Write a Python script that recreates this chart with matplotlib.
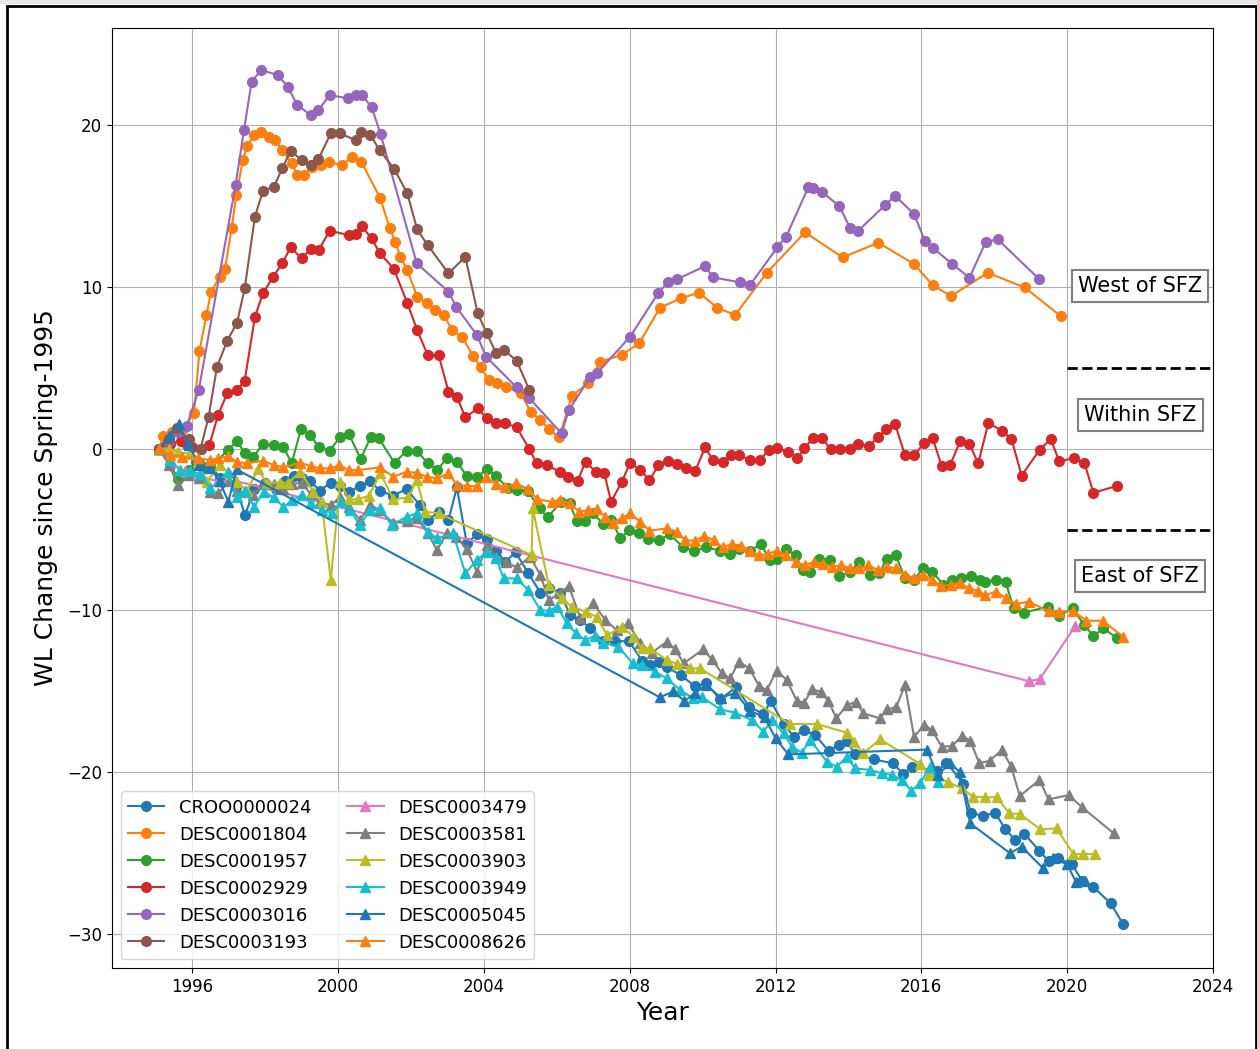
import matplotlib
matplotlib.use("Agg")
import matplotlib.pyplot as plt
from matplotlib.patches import Rectangle

# water level change since spring 1995, per well (year, WL change)
croo_x = [1995.1, 1995.35, 1995.6, 1995.85, 1996.1, 1996.35, 1996.5, 1996.75, 1997.2, 1997.45, 1997.7, 1998.0,
          1998.3, 1998.55, 1998.78, 1999.0, 1999.24, 1999.5, 1999.8, 2000.05, 2000.3, 2000.6, 2000.88, 2001.15,
          2001.5, 2001.88, 2002.25, 2002.48, 2002.76, 2003.03, 2003.26, 2003.53, 2003.81, 2004.08, 2004.34,
          2004.59, 2004.87, 2005.22, 2005.55, 2005.8, 2006.09, 2006.37, 2006.65, 2006.92, 2007.26, 2007.6,
          2007.99, 2008.33, 2008.56, 2008.8, 2009.02, 2009.4, 2009.8, 2010.1, 2010.48, 2010.92, 2011.28,
          2011.67, 2011.87, 2012.22, 2012.5, 2012.77, 2013.09, 2013.46, 2013.73, 2013.96, 2014.18, 2014.69,
          2015.22, 2015.5, 2015.73, 2016.44, 2016.69, 2017.15, 2017.35, 2017.7, 2018.02, 2018.3, 2018.57,
          2018.82, 2019.24, 2019.49, 2019.74, 2020.13, 2020.41, 2020.72, 2021.19, 2021.54]
croo_y = [0, 0.8, 1.2, 0.2, -0.8, -1.2, -1.0, -1.8, -2.4, -4.1, -2.5, -2.1,
          -2.5, -2.0, -1.7, -1.8, -2.0, -2.6, -2.1, -2.3, -2.7, -2.3, -2.0, -2.6,
          -2.9, -2.5, -3.5, -4.4, -3.9, -4.4, -2.4, -5.85, -5.3, -5.6, -6.3,
          -7.0, -6.4, -7.7, -8.9, -8.6, -8.9, -10.3, -10.6, -11.1, -11.9, -11.9,
          -11.9, -13.1, -13.4, -13.2, -13.5, -14.0, -14.7, -14.5, -15.5, -14.75, -15.95,
          -16.4, -15.6, -17.0, -17.8, -17.4, -17.7, -18.7, -18.3, -18.1, -18.9, -19.2,
          -19.45, -20.1, -19.7, -19.9, -19.4, -20.7, -22.5, -22.7, -22.5, -23.5, -24.2,
          -23.8, -24.85, -25.5, -25.3, -25.7, -26.7, -27.1, -28.1, -29.4]

d1804_x = [1995.1, 1995.2, 1995.45, 1995.75, 1996.05, 1996.2, 1996.39, 1996.52, 1996.75, 1996.9, 1997.08, 1997.21,
           1997.39, 1997.51, 1997.69, 1997.89, 1998.1, 1998.28, 1998.47, 1998.74, 1998.88, 1999.06, 1999.29,
           1999.52, 1999.74, 2000.11, 2000.38, 2000.64, 2001.16, 2001.42, 2001.57, 2001.71, 2001.9, 2002.17,
           2002.44, 2002.67, 2002.9, 2003.13, 2003.41, 2003.71, 2003.91, 2004.14, 2004.37, 2004.6, 2005.01,
           2005.29, 2005.55, 2005.79, 2006.07, 2006.41, 2006.85, 2007.19, 2007.78, 2008.26, 2008.83, 2009.4,
           2009.9, 2010.4, 2010.89, 2011.76, 2012.81, 2013.84, 2014.82, 2015.8, 2016.31, 2016.81, 2017.82,
           2018.83, 2019.82]
d1804_y = [0, 0.8, 1.0, 1.2, 2.2, 6.05, 8.26, 9.7, 10.59, 11.08, 13.61, 15.67,
           17.84, 18.7, 19.38, 19.59, 19.28, 19.07, 18.45, 17.63, 16.91, 16.91, 17.42,
           17.53, 17.73, 17.53, 18.04, 17.73, 15.47, 13.61, 12.79, 11.86, 11.04, 9.39,
           8.98, 8.57, 8.26, 7.33, 6.88, 5.72, 5.06, 4.24, 4.04, 3.83, 3.42,
           2.28, 1.77, 1.19, 0.7, 3.25, 4.04, 5.37, 5.79, 6.51, 8.71, 9.29,
           9.64, 8.71, 8.26, 10.87, 13.37, 11.82, 12.73, 11.41, 10.11, 9.43, 10.87,
           9.97, 8.2]

d1957_x = [1995.1, 1995.4, 1995.62, 1995.9, 1996.2, 1996.49, 1996.97, 1997.22, 1997.45, 1997.68, 1997.94, 1998.23,
           1998.5, 1998.73, 1998.98, 1999.24, 1999.47, 1999.77, 2000.05, 2000.3, 2000.62, 2000.9, 2001.12,
           2001.55, 2001.88, 2002.17, 2002.46, 2002.72, 2003.0, 2003.26, 2003.53, 2003.81, 2004.08, 2004.34,
           2004.65, 2004.92, 2005.2, 2005.53, 2005.75, 2006.12, 2006.35, 2006.55, 2006.78, 2007.0, 2007.28,
           2007.5, 2007.74, 2007.99, 2008.26, 2008.51, 2008.81, 2009.1, 2009.47, 2009.77, 2010.1, 2010.48,
           2010.75, 2011.0, 2011.3, 2011.6, 2011.85, 2012.05, 2012.3, 2012.55, 2012.75, 2012.95, 2013.2,
           2013.5, 2013.75, 2014.05, 2014.3, 2014.6, 2014.85, 2015.05, 2015.3, 2015.55, 2015.8, 2016.05,
           2016.3, 2016.6, 2016.85, 2017.1, 2017.35, 2017.6, 2017.75, 2018.05, 2018.31, 2018.53, 2018.81,
           2019.47, 2019.78, 2020.15, 2020.47, 2020.72, 2020.99, 2021.36]
d1957_y = [0, -1.0, -1.9, -1.3, -0.9, -1.2, -0.1, 0.45, -0.27, -0.52, 0.3, 0.25,
           0.1, -0.89, 1.19, 0.84, 0.1, -0.13, 0.7, 0.9, -0.63, 0.72, 0.64,
           -0.89, -0.13, -0.16, -0.89, -1.32, -0.55, -0.81, -1.69, -1.73, -1.28, -1.69,
           -2.45, -2.56, -2.6, -3.69, -4.25, -3.28, -3.38, -4.47, -4.47, -4.0, -4.66,
           -4.4, -5.54, -5.03, -5.24, -5.61, -5.65, -5.3, -6.1, -6.33, -6.1, -6.3,
           -6.5, -6.2, -6.3, -5.9, -6.9, -6.8, -6.2, -6.6, -7.5, -7.6, -6.8,
           -6.9, -7.9, -7.6, -7.0, -7.8, -7.7, -6.8, -6.6, -8.0, -8.1, -7.4,
           -7.6, -8.4, -8.1, -8.0, -7.9, -8.1, -8.22, -8.12, -8.22, -9.87, -10.14,
           -9.77, -10.33, -9.87, -10.9, -11.58, -11.11, -11.69]

d2929_x = [1995.1, 1995.4, 1995.7, 1996.0, 1996.23, 1996.47, 1996.71, 1996.96, 1997.23, 1997.44, 1997.72, 1997.94,
           1998.22, 1998.47, 1998.7, 1999.0, 1999.25, 1999.47, 1999.77, 2000.29, 2000.48, 2000.65, 2000.92,
           2001.14, 2001.53, 2001.9, 2002.17, 2002.46, 2002.76, 2003.03, 2003.26, 2003.49, 2003.83, 2004.08,
           2004.34, 2004.59, 2004.9, 2005.25, 2005.45, 2005.72, 2006.09, 2006.32, 2006.57, 2006.79, 2007.07,
           2007.3, 2007.49, 2007.78, 2008.01, 2008.29, 2008.54, 2008.79, 2009.06, 2009.31, 2009.54, 2009.8,
           2010.07, 2010.28, 2010.55, 2010.77, 2011.01, 2011.3, 2011.58, 2011.81, 2012.04, 2012.34, 2012.6,
           2012.79, 2013.02, 2013.27, 2013.52, 2013.77, 2014.05, 2014.27, 2014.57, 2014.8, 2015.03, 2015.28,
           2015.55, 2015.81, 2016.08, 2016.31, 2016.56, 2016.79, 2017.07, 2017.32, 2017.56, 2017.84, 2018.2,
           2018.47, 2018.75, 2019.25, 2019.55, 2019.78, 2020.19, 2020.47, 2020.72, 2021.36]
d2929_y = [0, 0.3, 0.5, 0.1, 0.0, 0.22, 2.08, 3.42, 3.62, 4.2, 8.15, 9.6,
           10.62, 11.45, 12.44, 11.76, 12.32, 12.27, 13.47, 13.2, 13.26, 13.76, 13.0,
           12.11, 11.11, 9.0, 7.33, 5.78, 5.78, 3.52, 3.21, 1.93, 2.49, 1.87,
           1.6, 1.56, 1.32, -0.04, -0.91, -1.01, -1.43, -1.73, -1.98, -0.81, -1.43,
           -1.49, -3.28, -2.07, -0.89, -1.3, -1.96, -1.01, -0.77, -0.95, -1.22, -1.36,
           0.08, -0.7, -0.81, -0.4, -0.4, -0.7, -0.7, -0.09, 0.02, -0.19, -0.6,
           0.02, 0.64, 0.64, -0.04, -0.04, -0.04, 0.28, 0.16, 0.7, 1.19, 1.52,
           -0.4, -0.4, 0.36, 0.64, -1.08, -1.01, 0.49, 0.28, -0.91, 1.6, 1.11,
           0.62, -1.66, -0.06, 0.59, -0.77, -0.6, -0.87, -2.72, -2.31]

d3016_x = [1995.1, 1995.35, 1995.6, 1995.85, 1996.18, 1997.19, 1997.42, 1997.63, 1997.89, 1998.35, 1998.62, 1998.88,
           1999.25, 1999.46, 1999.77, 2000.28, 2000.48, 2000.65, 2000.92, 2001.17, 2002.16, 2003.03, 2003.24,
           2003.81, 2004.06, 2004.9, 2005.25, 2006.13, 2006.33, 2006.92, 2007.1, 2008.01, 2008.79, 2009.06,
           2009.31, 2010.07, 2010.28, 2011.03, 2011.3, 2012.05, 2012.29, 2012.9, 2013.02, 2013.27, 2013.75,
           2014.05, 2014.27, 2015.01, 2015.28, 2015.8, 2016.1, 2016.33, 2016.85, 2017.32, 2017.76, 2018.09,
           2019.24]
d3016_y = [0, 0.5, 1.0, 1.4, 3.62, 16.29, 19.69, 22.68, 23.4, 23.09, 22.37, 21.24,
           20.62, 20.92, 21.85, 21.65, 21.85, 21.85, 21.13, 19.42, 11.45, 9.7, 8.77,
           7.02, 5.68, 3.79, 3.11, 0.95, 2.38, 4.44, 4.65, 6.92, 9.64, 10.32,
           10.48, 11.29, 10.59, 10.28, 10.11, 12.44, 13.1, 16.15, 16.09, 15.88, 14.99,
           13.62, 13.47, 15.06, 15.63, 14.5, 12.83, 12.38, 11.41, 10.56, 12.75, 12.95,
           10.46]

d3193_x = [1995.1, 1995.35, 1995.58, 1995.9, 1996.23, 1996.45, 1996.68, 1996.96, 1997.23, 1997.44, 1997.72, 1997.94,
           1998.24, 1998.47, 1998.7, 1999.0, 1999.25, 1999.46, 1999.8, 2000.05, 2000.48, 2000.62, 2000.89,
           2001.14, 2001.54, 2001.9, 2002.17, 2002.46, 2003.03, 2003.49, 2003.83, 2004.08, 2004.34, 2004.56,
           2004.9, 2005.25]
d3193_y = [0, 0.6, 1.27, 0.6, 0.0, 1.97, 5.06, 6.67, 7.78, 9.91, 14.33, 15.94,
           16.19, 17.32, 18.41, 17.84, 17.53, 17.88, 19.49, 19.49, 19.07, 19.59, 19.38,
           18.45, 17.29, 15.78, 13.55, 12.58, 10.83, 11.86, 8.36, 7.13, 5.89, 6.09,
           5.43, 3.62]

d3479_x = [1995.1, 1995.4, 1995.8, 1996.3, 1996.7, 1997.2, 2018.95, 2019.25, 2020.22]
d3479_y = [0, -0.9, -1.4, -1.8, -2.0, -2.0, -14.37, -14.24, -10.97]

d3581_x = [1995.1, 1995.35, 1995.62, 1995.9, 1996.2, 1996.49, 1996.72, 1997.0, 1997.22, 1997.45, 1997.68, 1997.94,
           1998.23, 1998.5, 1998.75, 1999.0, 1999.25, 1999.5, 1999.8, 2000.05, 2000.3, 2000.6, 2000.88,
           2001.15, 2001.5, 2001.88, 2002.16, 2002.46, 2002.71, 2003.0, 2003.24, 2003.53, 2003.81, 2004.08,
           2004.34, 2004.6, 2004.9, 2005.27, 2005.55, 2005.78, 2006.08, 2006.33, 2006.65, 2007.0, 2007.33,
           2007.64, 2007.96, 2008.29, 2008.61, 2009.02, 2009.25, 2009.48, 2010.02, 2010.25, 2010.52, 2010.75,
           2011.0, 2011.28, 2011.55, 2011.76, 2012.03, 2012.31, 2012.58, 2012.79, 2013.0, 2013.24, 2013.45,
           2013.67, 2013.96, 2014.21, 2014.41, 2014.87, 2015.05, 2015.31, 2015.55, 2015.8, 2016.08, 2016.29,
           2016.56, 2016.84, 2017.11, 2017.34, 2017.59, 2017.87, 2018.21, 2018.46, 2018.7, 2019.24, 2019.49,
           2020.04, 2020.41, 2021.28]
d3581_y = [0, -1.0, -2.25, -1.6, -1.8, -2.66, -2.76, -2.0, -2.6, -2.7, -2.87, -2.2,
           -2.2, -2.5, -2.2, -2.1, -2.8, -3.3, -3.5, -3.0, -3.6, -4.4, -3.5,
           -3.8, -4.6, -4.5, -4.3, -5.2, -6.27, -5.2, -5.45, -6.2, -7.61, -5.96,
           -6.68, -7.0, -7.34, -6.68, -7.81, -9.36, -8.94, -8.49, -10.49, -9.56, -10.59,
           -11.21, -10.8, -12.03, -12.61, -11.93, -12.4, -13.27, -12.4, -13.02, -13.85, -14.2,
           -13.17, -13.58, -14.67, -14.92, -13.73, -14.3, -15.58, -15.7, -14.88, -15.02, -15.6,
           -16.67, -15.85, -15.64, -16.36, -16.67, -16.11, -15.99, -14.61, -17.81, -17.08, -17.39,
           -18.42, -18.38, -17.76, -18.05, -19.45, -19.29, -18.63, -19.62, -21.47, -20.48, -21.68,
           -21.41, -22.17, -23.78]

d3903_x = [1995.1, 1995.35, 1995.6, 1995.9, 1996.15, 1996.4, 1996.76, 1997.0, 1997.22, 1997.5, 1997.81, 1998.04,
           1998.41, 1998.64, 1998.96, 1999.32, 1999.55, 1999.8, 2000.06, 2000.29, 2000.56, 2000.85, 2001.16,
           2001.52, 2001.93, 2002.16, 2002.39, 2002.76, 2005.31, 2005.34, 2005.78, 2006.14, 2006.41, 2006.8,
           2007.09, 2007.38, 2007.8, 2008.1, 2008.33, 2008.56, 2009.02, 2009.3, 2009.66, 2009.93, 2012.4,
           2013.13, 2013.96, 2014.16, 2014.4, 2014.87, 2015.97, 2016.2, 2016.72, 2017.11, 2017.43, 2017.75,
           2018.07, 2018.41, 2018.71, 2019.26, 2019.71, 2020.17, 2020.44, 2020.76]
d3903_y = [0, 0, -0.2, -0.3, -0.8, -2.04, -1.01, -1.5, -2.04, -2.6, -1.28, -2.1,
           -2.1, -2.1, -1.43, -2.66, -3.3, -8.12, -2.04, -3.13, -3.13, -2.9, -1.53,
           -3.13, -3.01, -1.94, -3.9, -4.0, -6.58, -3.69, -8.43, -9.25, -9.77, -10.08,
           -10.39, -11.52, -11.01, -11.63, -12.34, -12.34, -13.07, -13.3, -13.58, -13.58, -17.02,
           -17.02, -17.56, -18.11, -18.83, -17.97, -19.49, -20.17, -20.59, -21.0, -21.51, -21.55,
           -21.55, -22.54, -22.58, -23.53, -23.47, -25.06, -25.06, -25.06]

d3949_x = [1995.1, 1995.4, 1995.67, 1995.95, 1996.22, 1996.49, 1996.75, 1996.97, 1997.22, 1997.45, 1997.7, 1997.96,
           1998.23, 1998.5, 1998.75, 1999.0, 1999.25, 1999.55, 1999.83, 2000.07, 2000.33, 2000.6, 2000.88,
           2001.16, 2001.47, 2001.88, 2002.16, 2002.46, 2002.72, 2003.16, 2003.49, 2003.81, 2004.08, 2004.34,
           2004.54, 2004.9, 2005.22, 2005.55, 2005.78, 2006.01, 2006.28, 2006.53, 2006.78, 2007.05, 2007.28,
           2007.69, 2008.08, 2008.33, 2008.7, 2009.02, 2009.38, 2009.75, 2009.97, 2010.48, 2010.89, 2011.35,
           2011.67, 2011.9, 2012.22, 2012.45, 2012.72, 2012.95, 2013.41, 2013.68, 2013.96, 2014.18, 2014.6,
           2014.92, 2015.19, 2015.47, 2015.72, 2015.97, 2016.23, 2016.46]
d3949_y = [0, -0.7, -1.32, -1.4, -1.57, -2.45, -2.0, -1.43, -3.01, -2.6, -3.59, -2.66,
           -3.01, -3.59, -3.2, -2.87, -3.38, -3.79, -4.0, -3.28, -3.79, -4.72, -3.79,
           -3.69, -4.72, -4.21, -4.0, -5.14, -5.54, -5.24, -7.71, -6.88, -6.37, -6.78,
           -8.02, -8.02, -8.74, -9.98, -10.02, -9.77, -10.8, -11.42, -11.83, -11.58, -12.0,
           -12.24, -13.27, -13.37, -13.8, -14.2, -14.92, -15.43, -15.33, -16.11, -16.32, -16.77,
           -17.5, -16.77, -17.6, -18.42, -18.79, -18.01, -19.35, -19.66, -19.04, -19.76, -19.86,
           -20.07, -20.17, -20.48, -21.14, -20.69, -19.66, -20.59]

# records for this well are not in time order
d5045_x = [1995.1, 1995.35, 1995.63, 1995.9, 1996.2, 1996.5, 1996.75, 1996.99, 1997.22, 2008.83, 2009.2, 2009.5,
           2009.8, 2010.1, 2010.5, 2010.9, 2011.3, 2011.7, 2012.0, 2012.35, 2016.15, 2016.45, 2016.79,
           2017.05, 2017.34, 2018.43, 2018.75, 2019.34, 2019.6, 2020.0, 2020.24, 2020.5]
d5045_y = [0, 0.8, 1.5, 0.2, -1.0, -1.2, -2.0, -3.28, -1.28, -15.37, -15.0, -15.6,
           -15.1, -14.6, -15.4, -15.1, -16.2, -16.6, -17.9, -18.9, -18.6, -20.2, -19.4,
           -20.0, -23.16, -25.0, -24.6, -25.94, -25.3, -25.7, -26.77, -26.7]

d8626_x = [1995.1, 1995.4, 1995.72, 1996.17, 1996.49, 1996.72, 1996.99, 1997.22, 1997.5, 1997.94, 1998.23, 1998.5,
           1998.96, 1999.25, 1999.51, 1999.79, 2000.04, 2000.29, 2000.56, 2001.14, 2001.52, 2001.88, 2002.16,
           2002.43, 2002.71, 2003.03, 2003.26, 2003.53, 2003.81, 2004.06, 2004.34, 2004.59, 2004.89, 2005.22,
           2005.47, 2005.86, 2006.09, 2006.35, 2006.62, 2006.87, 2007.1, 2007.33, 2007.54, 2007.78, 2008.01,
           2008.29, 2008.54, 2009.01, 2009.29, 2009.52, 2009.8, 2010.04, 2010.3, 2010.55, 2010.8, 2011.05,
           2011.3, 2011.55, 2011.8, 2012.05, 2012.3, 2012.55, 2012.8, 2013.05, 2013.3, 2013.55, 2013.8,
           2014.05, 2014.3, 2014.55, 2014.8, 2015.05, 2015.3, 2015.55, 2015.8, 2016.05, 2016.3, 2016.55,
           2016.8, 2017.05, 2017.3, 2017.55, 2017.75, 2018.05, 2018.33, 2018.6, 2018.94, 2019.49, 2019.78,
           2020.17, 2020.53, 2020.97, 2021.54]
d8626_y = [0, -0.4, -0.5, -0.6, -0.7, -0.6, -0.46, -0.81, -0.91, -0.75, -1.01, -1.16,
           -0.87, -1.08, -1.22, -1.22, -1.01, -1.32, -1.32, -1.16, -1.73, -1.43, -1.49,
           -1.73, -1.84, -1.53, -2.25, -2.31, -2.31, -1.77, -2.19, -2.39, -2.15, -2.52,
           -3.13, -3.28, -3.18, -3.38, -3.9, -3.79, -3.75, -4.21, -4.58, -4.31, -4.0,
           -4.52, -5.07, -4.93, -5.14, -5.65, -5.69, -5.4, -5.65, -6.1, -5.9, -6.0,
           -6.3, -6.6, -6.5, -6.3, -6.6, -7.0, -7.2, -7.0, -7.1, -7.3, -7.2,
           -7.4, -7.4, -7.2, -7.5, -7.3, -7.4, -7.8, -8.0, -7.8, -8.1, -8.5,
           -8.4, -8.3, -8.6, -8.8, -9.05, -8.84, -9.25, -9.6, -9.46, -10.04, -10.08,
           -10.04, -10.64, -10.64, -11.63]

wells = [
    ("CROO0000024", croo_x, croo_y, "o"),
    ("DESC0001804", d1804_x, d1804_y, "o"),
    ("DESC0001957", d1957_x, d1957_y, "o"),
    ("DESC0002929", d2929_x, d2929_y, "o"),
    ("DESC0003016", d3016_x, d3016_y, "o"),
    ("DESC0003193", d3193_x, d3193_y, "o"),
    ("DESC0003479", d3479_x, d3479_y, "^"),
    ("DESC0003581", d3581_x, d3581_y, "^"),
    ("DESC0003903", d3903_x, d3903_y, "^"),
    ("DESC0003949", d3949_x, d3949_y, "^"),
    ("DESC0005045", d5045_x, d5045_y, "^"),
    ("DESC0008626", d8626_x, d8626_y, "^"),
]

zone_labels = ["West of SFZ", "Within SFZ", "East of SFZ"]
zone_label_y = [10.05, 2.07, -7.88]
zone_bounds = [5, -5]

fig = plt.figure(figsize=(12.57, 10.49), dpi=100)
ax = fig.add_axes([112 / 1257, 1 - 968 / 1049, (1213 - 112) / 1257, (968 - 28) / 1049])

for name, xs, ys, mk in wells:
    ax.plot(xs, ys, marker=mk, markersize=7, linewidth=1.5, label=name)

for yb in zone_bounds:
    ax.hlines(yb, 2020, 2024, colors="black", linestyles="--", linewidth=2, clip_on=False, zorder=5)

for txt, yt in zip(zone_labels, zone_label_y):
    ax.text(2022.0, yt, txt, fontsize=15, ha="center", va="center", zorder=6,
            bbox=dict(boxstyle="square,pad=0.3", facecolor="white", edgecolor="#808080", linewidth=1.5))

ax.set_xlim(1993.8, 2024)
ax.set_ylim(-32.1, 26.0)
ax.set_xticks(range(1996, 2025, 4))
ax.set_yticks([-30, -20, -10, 0, 10, 20])
ax.tick_params(labelsize=12)
ax.grid(True)
ax.set_xlabel("Year", fontsize=18)
ax.set_ylabel("WL Change since Spring-1995", fontsize=18, labelpad=7)
ax.legend(loc="lower left", ncol=2, fontsize=13)

# frame around the whole picture, thin grey strip above it
fig.add_artist(Rectangle((0, 1 - 4 / 1049), 1, 4 / 1049, transform=fig.transFigure,
                         facecolor="#e6e6e6", edgecolor="none"))
fig.add_artist(Rectangle((7 / 1257, -0.01), (1256 - 7) / 1257, 1.01 - 6 / 1049,
                         transform=fig.transFigure, fill=False, edgecolor="black", linewidth=2))

fig.savefig("out.png", dpi=100)
